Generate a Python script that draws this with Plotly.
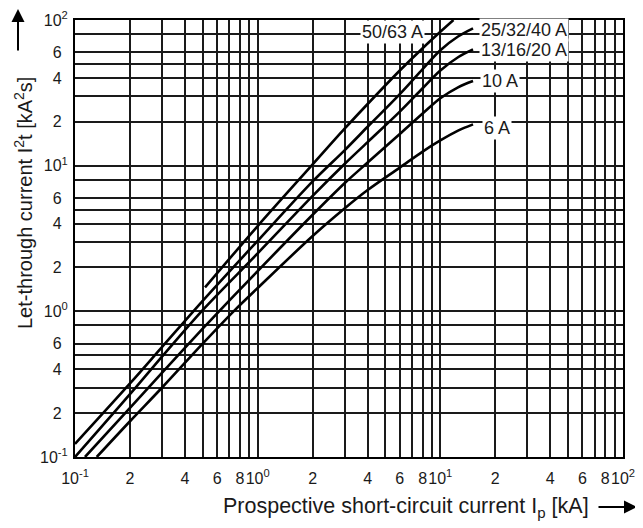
import plotly.graph_objects as go

# ---- data ----
ip_50_63 = [0.515, 1, 2, 3, 4, 6, 8, 10, 11.8]
i2t_50_63 = [1.46, 3.85, 10.2, 18, 26.5, 45, 64, 83, 100]

ip_25_40 = [0.1, 0.2, 0.3, 0.5, 1, 2, 3, 4, 6, 8, 10, 12.5, 15.1]
i2t_25_40 = [0.123, 0.32, 0.57, 1.18, 3.05, 7.8, 12.8, 18.5, 31, 46, 62, 77, 87.6]

ip_13_20 = [0.1, 0.2, 0.3, 0.5, 1, 2, 3, 4, 6, 8, 10, 12.5, 15.1]
i2t_13_20 = [0.1, 0.27, 0.49, 1.02, 2.5, 6.2, 10.3, 14.5, 23.5, 34, 45, 55.5, 62.8]

ip_10 = [0.1134, 0.2, 0.3, 0.5, 0.705, 1, 2, 3, 4, 6, 8, 10, 12.5, 15.1]
i2t_10 = [0.1, 0.217, 0.38, 0.76, 1.2, 1.89, 4.6, 7.6, 10.5, 16.5, 22.8, 29, 34.5, 38.1]

ip_6 = [0.1315, 0.2, 0.3, 0.5, 0.75, 1, 2, 3, 4, 6, 8, 10, 12.5, 15.1]
i2t_6 = [0.1, 0.176, 0.30, 0.6, 1.02, 1.445, 3.29, 5.1, 6.8, 9.7, 12.5, 14.9, 17.4, 19.2]

curve_labels = ["50/63 A", "25/32/40 A", "13/16/20 A", "10 A", "6 A"]

x_decades = [0.1, 1, 10]
x_grid_mults = [1, 2, 3, 4, 5, 6, 7, 8, 9]
x_label_mults = [1, 2, 4, 6, 8]
y_decades = [0.1, 1, 10]
y_grid_mults = [1, 2, 3, 4, 5, 6, 8]
y_label_mults = [1, 2, 4, 6]
exps = {0.1: "-1", 1: "0", 10: "1", 100: "2"}

FONT = "Liberation Sans, Arial, sans-serif"
INK = "#1a1a1a"
HIDE = '<span style="color:rgba(0,0,0,0)">%s</span>'


def major_ticks(decades, labelled, axis):
    vals, texts = [], []
    for d in list(decades) + [100]:
        for m in labelled:
            if d == 100 and m != 1:
                continue
            vals.append(m * d)
            if m == 1:
                texts.append("10<sup>%s</sup>" % exps[d])
            elif axis == "y":
                texts.append(str(m) + HIDE % "<sup>0</sup>")
            else:
                texts.append(str(m))
    return vals, texts


def minor_ticks(decades, grid, labelled):
    return [m * d for d in decades for m in grid if m not in labelled]


xv, xt = major_ticks(x_decades, x_label_mults, "x")
yv, yt = major_ticks(y_decades, y_label_mults, "y")
xminor = minor_ticks(x_decades, x_grid_mults, x_label_mults)
yminor = minor_ticks(y_decades, y_grid_mults, y_label_mults)

fig = go.Figure()
series = [(ip_50_63, i2t_50_63), (ip_25_40, i2t_25_40), (ip_13_20, i2t_13_20),
          (ip_10, i2t_10), (ip_6, i2t_6)]
for (xs, ys), name in zip(series, curve_labels):
    fig.add_trace(go.Scatter(x=xs, y=ys, mode="lines", name=name,
                             line=dict(color="black", width=2.6, shape="spline", smoothing=0.9),
                             showlegend=False, hoverinfo="skip"))

axis_common = dict(type="log", showgrid=True, gridcolor=INK, gridwidth=1.5,
                   showline=True, linecolor="black", linewidth=2, mirror=True,
                   ticks="", zeroline=False, automargin=False, tickangle=0,
                   tickfont=dict(family=FONT, size=16, color=INK))

fig.update_xaxes(range=[-1, 2], tickmode="array", tickvals=xv, ticktext=xt,
                 ticklabelstandoff=6,
                 minor=dict(tickmode="array", tickvals=xminor, showgrid=True,
                            gridcolor=INK, gridwidth=1.5, ticks=""),
                 **axis_common)
fig.update_yaxes(range=[-1, 2], tickmode="array", tickvals=yv, ticktext=yt,
                 ticklabelstandoff=2,
                 minor=dict(tickmode="array", tickvals=yminor, showgrid=True,
                            gridcolor=INK, gridwidth=1.5, ticks=""),
                 **axis_common)

# the page has an 8 px body margin: positions below are page pixels
OFF = 8
W, H = 643 - OFF, 528 - OFF
L, T = 75 - OFF, 20 - OFF
R = W - (623 - OFF)
B = H - (457 - OFF)
PW, PH = W - L - R, H - T - B


def px(x):
    return (x - OFF - L) / PW


def py(y):
    return (H - B - (y - OFF)) / PH


annotations = []
label_pos = [(392, 32), (524, 30), (524, 50), (500, 81), (497, 128)]
for text, (x, y) in zip(curve_labels, label_pos):
    annotations.append(dict(x=px(x), y=py(y), xref="paper", yref="paper", text=text,
                            showarrow=False, bgcolor="white", borderpad=1,
                            font=dict(family=FONT, size=18, color=INK),
                            xanchor="center", yanchor="middle"))

annotations.append(dict(x=px(23), y=py(203), xref="paper", yref="paper",
                        text="Let-through current I<sup>2</sup>t [kA<sup>2</sup>s]",
                        textangle=-90, showarrow=False,
                        font=dict(family=FONT, size=20, color=INK),
                        xanchor="center", yanchor="middle"))
annotations.append(dict(x=px(406), y=py(507), xref="paper", yref="paper",
                        text="Prospective short-circuit current I<sub>p</sub> [kA]",
                        showarrow=False,
                        font=dict(family=FONT, size=21.5, color=INK),
                        xanchor="center", yanchor="middle"))
# arrows
annotations.append(dict(x=px(18), y=py(8), xref="paper", yref="paper", text="",
                        showarrow=True, ax=0, ay=44, arrowhead=2, arrowsize=1.3,
                        arrowwidth=2, arrowcolor="black"))
annotations.append(dict(x=px(637), y=py(507), xref="paper", yref="paper", text="",
                        showarrow=True, ax=-40, ay=0, arrowhead=2, arrowsize=1.3,
                        arrowwidth=2, arrowcolor="black"))

fig.update_layout(width=W, height=H, margin=dict(l=L, r=R, t=T, b=B),
                  paper_bgcolor="white", plot_bgcolor="white",
                  annotations=annotations, font=dict(family=FONT))

fig.write_html("out.html")
